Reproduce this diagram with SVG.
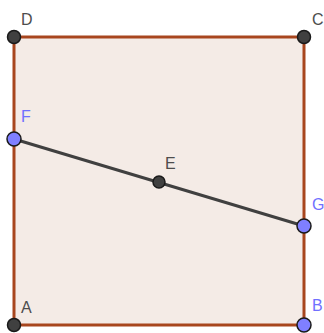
<svg xmlns="http://www.w3.org/2000/svg" width="324" height="333" viewBox="0 0 324 333">
<style>
.lbl{font-family:"Liberation Sans",Arial,sans-serif;font-size:16px}
.dk{fill:#4d4d4d}
.bl{fill:#7070ff}
.pd{fill:#404040;stroke:#1a1a1a;stroke-width:1.5}
.pb{fill:#7f7fff;stroke:#1a1a1a;stroke-width:1.5}
</style>
<rect width="324" height="333" fill="#ffffff"/>
<g id="square">
<polygon points="14,37 304,37 304,325 14,325" fill="#f4ebe6" stroke="#a8461e" stroke-width="3"/>
</g>
<g id="connectors">
<line x1="14" y1="139" x2="304" y2="226" stroke="#404040" stroke-width="3"/>
</g>
<g id="D"><circle class="pd" cx="14" cy="37" r="6.5"/><text class="lbl dk" x="21" y="25">D</text></g>
<g id="C"><circle class="pd" cx="304" cy="37" r="6.5"/><text class="lbl dk" x="312" y="25">C</text></g>
<g id="A"><circle class="pd" cx="14" cy="325" r="6.5"/><text class="lbl dk" x="21" y="313">A</text></g>
<g id="B"><circle class="pb" cx="304" cy="325" r="7"/><text class="lbl bl" x="312" y="311">B</text></g>
<g id="F"><circle class="pb" cx="14" cy="139" r="7"/><text class="lbl bl" x="21" y="122">F</text></g>
<g id="G"><circle class="pb" cx="304" cy="226" r="7"/><text class="lbl bl" x="312" y="210">G</text></g>
<g id="E"><circle class="pd" cx="159" cy="182" r="6"/><text class="lbl dk" x="165" y="169">E</text></g>
</svg>
